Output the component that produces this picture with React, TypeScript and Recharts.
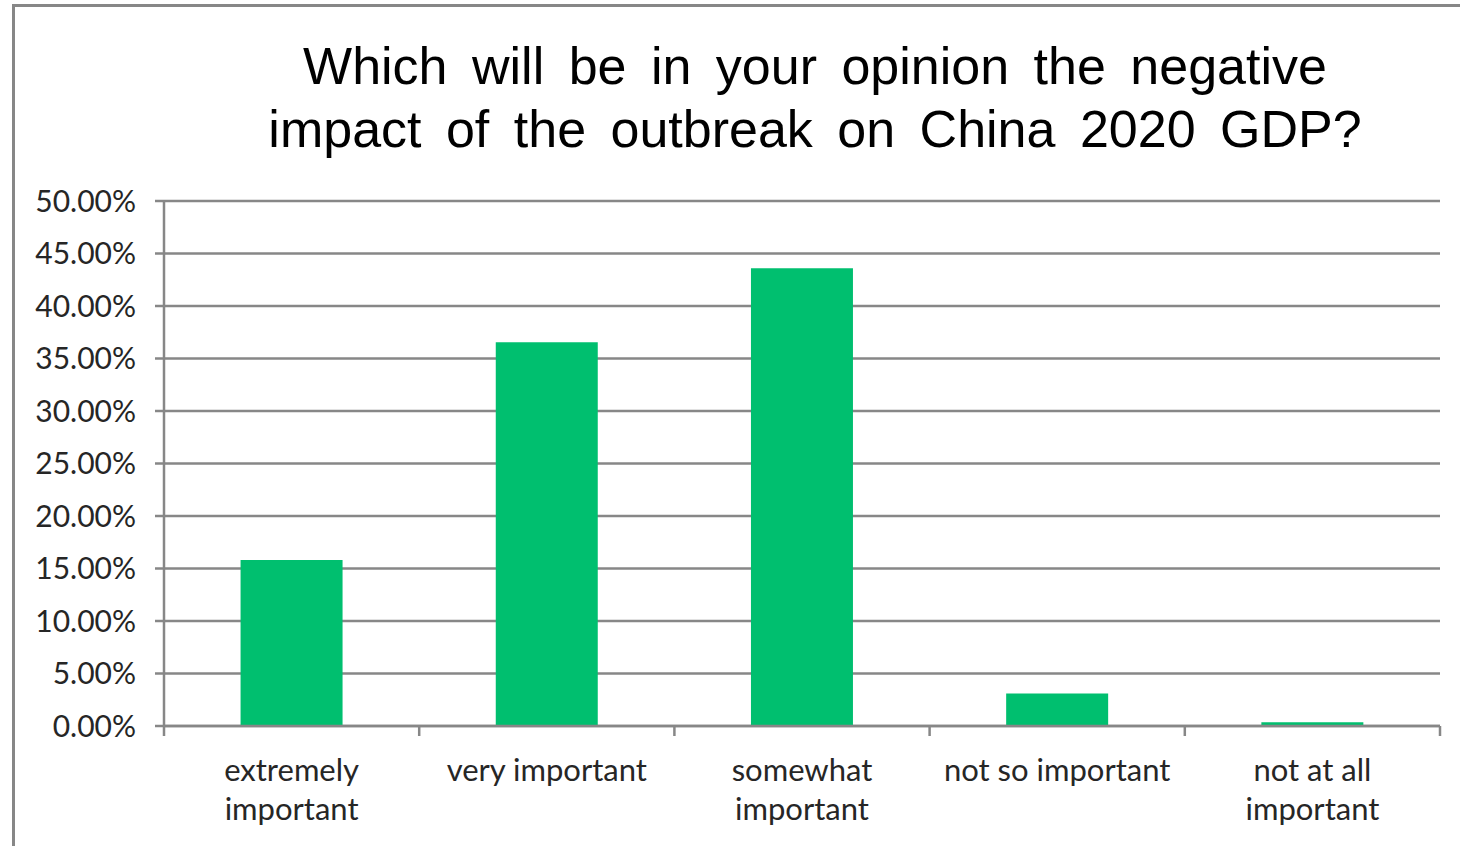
import React from 'react';
import { BarChart, Bar, XAxis, YAxis, CartesianGrid } from 'recharts';

const categories = ['extremely\nimportant', 'very important', 'somewhat\nimportant', 'not so important', 'not at all\nimportant'];
const shares = [15.8, 36.55, 43.6, 3.1, 0.35];
const yTicks = [0, 5, 10, 15, 20, 25, 30, 35, 40, 45, 50];
const titleLines = ['Which will be in your opinion the negative', 'impact of the outbreak on China 2020 GDP?'];

const data = categories.map((c, i) => ({ category: c, share: shares[i] }));

const GRID = '#878787';
const LABEL_FONT = 'Lato, "Open Sans", sans-serif';

const CategoryTick = (props: any) => {
  const { x, y, payload, index, visibleTicksCount } = props;
  const half = payload && typeof payload.offset === 'number' ? payload.offset : 0;
  const lines = String(payload.value).split('\n');
  const isLast = index === (visibleTicksCount ?? categories.length) - 1;
  return (
    <g>
      <line x1={x - half} x2={x - half} y1={y} y2={y + 10} stroke={GRID} strokeWidth={2.5} />
      {isLast && <line x1={x + half} x2={x + half} y1={y} y2={y + 10} stroke={GRID} strokeWidth={2.5} />}
      <text x={x} y={y} textAnchor="middle" fontFamily={LABEL_FONT} fontSize={31} fill="#262626">
        {lines.map((l, i) => (
          <tspan key={i} x={x} dy={i === 0 ? 55 : 39}>{l}</tspan>
        ))}
      </text>
    </g>
  );
};

export default function App() {
  return (
    <div style={{ position: 'absolute', left: 0, top: 0, width: 1460, height: 846, background: '#fff', overflow: 'hidden' }}>
      <div style={{ position: 'absolute', left: 12, top: 4, width: 1500, height: 900, borderLeft: `3px solid ${GRID}`, borderTop: `3px solid ${GRID}` }} />
      <div style={{ position: 'absolute', left: 115, width: 1400, top: 35, textAlign: 'center', fontFamily: '"Liberation Sans", Arial, sans-serif', fontSize: 52, lineHeight: '63px', color: '#000', wordSpacing: 10 }}>
        {titleLines.map((t, i) => <div key={i} style={{ whiteSpace: 'nowrap' }}>{t}</div>)}
      </div>
      <div style={{ position: 'absolute', left: 0, top: 0 }}>
        <BarChart width={1460} height={846} data={data} margin={{ top: 201, right: 20, left: 0, bottom: 0 }} barCategoryGap="30%">
          <CartesianGrid horizontal vertical={false} stroke={GRID} strokeWidth={2.5} />
          <XAxis dataKey="category" type="category" height={120} axisLine={{ stroke: GRID, strokeWidth: 2.5 }} tickLine={false} tickSize={0} tickMargin={0} tick={<CategoryTick />} interval={0} />
          <YAxis width={164} domain={[0, 50]} ticks={yTicks} tickFormatter={(v: number) => v.toFixed(2) + '%'} tickSize={9} tickMargin={19} axisLine={{ stroke: GRID, strokeWidth: 2.5 }} tickLine={{ stroke: GRID, strokeWidth: 2.5 }} tick={{ fontFamily: LABEL_FONT, fontSize: 30, fill: '#262626' }} />
          <Bar dataKey="share" fill="#00bf6f" isAnimationActive={false} />
        </BarChart>
      </div>
    </div>
  );
}
